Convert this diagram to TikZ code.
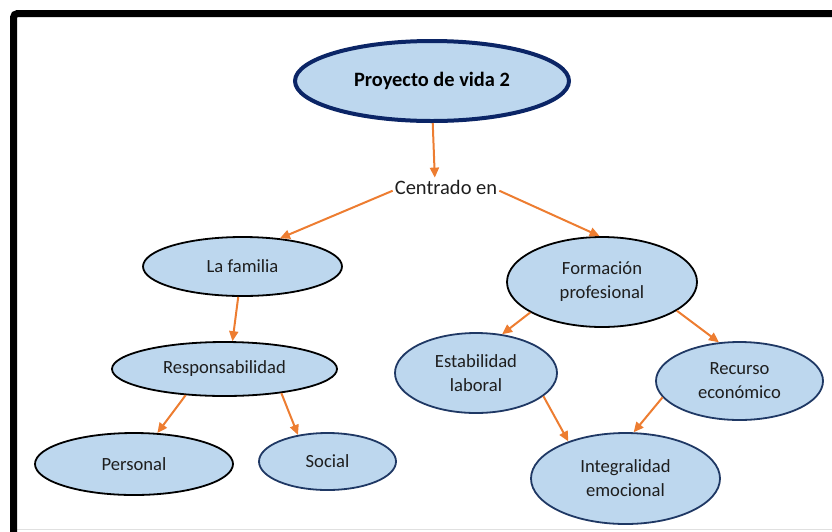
\documentclass[tikz,border=0pt]{standalone}
\usepackage{fontspec}
\setmainfont{Carlito}
\usetikzlibrary{shapes.geometric,arrows.meta}
\definecolor{bubfill}{HTML}{BDD7EE}
\definecolor{navy}{HTML}{1F3864}
\definecolor{deepnavy}{HTML}{0B2566}
\definecolor{orng}{HTML}{ED7D31}
\definecolor{txt}{HTML}{1E1E1E}
\tikzset{
  bub/.style={ellipse, fill=bubfill, draw=navy, line width=1.8pt, inner sep=0pt,
    font=\fontsize{18.6}{24}\selectfont, align=center, text=txt},
  blk/.style={bub, draw=black},
  arr/.style={draw=orng, line width=2pt, -{Triangle[length=10pt,width=9pt]}},
}
\begin{document}
\begin{tikzpicture}[x=1pt,y=-1pt]
\useasboundingbox (0,0) rectangle (832,531);
% frame
\draw[black!12, line width=1pt] (17,529.5) -- (832,529.5);
\draw[black, line width=7pt, rounded corners=4pt] (13.5,545) -- (13.5,13.5) -- (845,13.5);
% nodes
\node[bub, draw=deepnavy, line width=4pt, minimum width=274pt, minimum height=80pt,
  font=\fontsize{20.4}{24}\selectfont\bfseries, text=black] (proj) at (432,81) {Proyecto de vida 2};
\node[font=\fontsize{20.5}{24}\selectfont, text=txt, inner sep=2pt] (cent) at (446,187) {Centrado en};
\node[blk, minimum width=199pt, minimum height=59pt] (fam) at (242.5,266.5) {La familia};
\node[blk, minimum width=225pt, minimum height=54pt] (resp) at (224.5,369) {Responsabilidad};
\node[blk, minimum width=198pt, minimum height=62pt] (pers) at (134,464) {Personal};
\node[bub, minimum width=137pt, minimum height=57pt] (soc) at (327.5,461.5) {Social};
\node[blk, minimum width=190pt, minimum height=90pt] (form) at (602,282) {Formación\\profesional};
\node[bub, minimum width=162pt, minimum height=80pt] (estab) at (476,373) {Estabilidad\\laboral};
\node[bub, minimum width=167pt, minimum height=78pt] (rec) at (739.5,381) {Recurso\\económico};
\node[bub, minimum width=189pt, minimum height=91pt] (integ) at (625.5,478.5) {Integralidad\\emocional};
% connectors
\draw[arr] (proj.271) -- (cent.140);
\draw[arr] (cent.184) -- (fam.37);
\draw[arr] (cent.356) -- (form.93);
\draw[arr] (fam.262) -- (resp.74);
\draw[arr] (resp.214) -- (pers.53);
\draw[arr] (resp.337) -- (soc.138);
\draw[arr] (form.203) -- (estab.56);
\draw[arr] (form.339) -- (rec.118);
\draw[arr] (estab.341) -- (integ.147);
\draw[arr] (rec.192) -- (integ.80);
\end{tikzpicture}
\end{document}
